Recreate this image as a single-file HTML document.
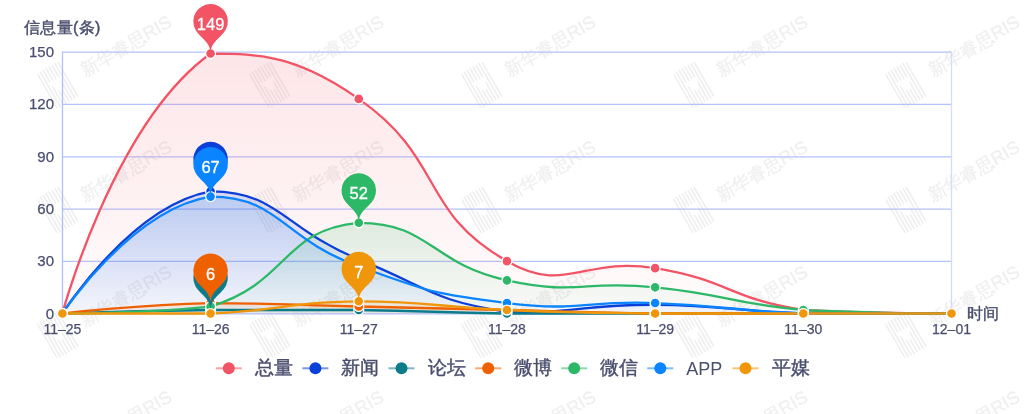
<!DOCTYPE html>
<html><head><meta charset="utf-8"><style>
html,body{margin:0;padding:0;background:#fff;}
body{width:1024px;height:414px;position:relative;overflow:hidden;font-family:"Liberation Sans",sans-serif;color:#4a4e6e;}
svg{position:absolute;left:0;top:0;}
#root{position:absolute;left:0;top:0;width:1024px;height:414px;}
.yl{position:absolute;left:0;width:54px;text-align:right;font-size:15px;line-height:16px;-webkit-text-stroke:0.25px #4a4e6e;}
.xl{position:absolute;top:321px;width:60px;text-align:center;font-size:14px;line-height:16px;-webkit-text-stroke:0.25px #4a4e6e;}
.lg{position:absolute;top:358px;font-size:19px;line-height:20px;-webkit-text-stroke:0.4px #4a4e6e;}
.t{position:absolute;font-size:16px;line-height:18px;letter-spacing:0.35px;-webkit-text-stroke:0.4px #4a4e6e;}
</style></head><body><div id="root">
<svg width="1024" height="414" viewBox="0 0 1024 414" font-family="Liberation Sans, sans-serif">
<defs><clipPath id="lgc"><rect x="-13" y="-20.5" width="26" height="41" rx="3.5"/></clipPath><linearGradient id="g0" x1="0" y1="0" x2="0" y2="1"><stop offset="0" stop-color="#f25465" stop-opacity="0.150"/><stop offset="1" stop-color="#f25465" stop-opacity="0.02"/></linearGradient><linearGradient id="g1" x1="0" y1="0" x2="0" y2="1"><stop offset="0" stop-color="#0a3fd9" stop-opacity="0.150"/><stop offset="1" stop-color="#0a3fd9" stop-opacity="0.02"/></linearGradient><linearGradient id="g2" x1="0" y1="0" x2="0" y2="1"><stop offset="0" stop-color="#0d7c8a" stop-opacity="0.150"/><stop offset="1" stop-color="#0d7c8a" stop-opacity="0.02"/></linearGradient><linearGradient id="g3" x1="0" y1="0" x2="0" y2="1"><stop offset="0" stop-color="#ee6000" stop-opacity="0.150"/><stop offset="1" stop-color="#ee6000" stop-opacity="0.02"/></linearGradient><linearGradient id="g4" x1="0" y1="0" x2="0" y2="1"><stop offset="0" stop-color="#2cb866" stop-opacity="0.150"/><stop offset="1" stop-color="#2cb866" stop-opacity="0.02"/></linearGradient><linearGradient id="g5" x1="0" y1="0" x2="0" y2="1"><stop offset="0" stop-color="#0a84ff" stop-opacity="0.150"/><stop offset="1" stop-color="#0a84ff" stop-opacity="0.02"/></linearGradient><linearGradient id="g6" x1="0" y1="0" x2="0" y2="1"><stop offset="0" stop-color="#f0960a" stop-opacity="0.150"/><stop offset="1" stop-color="#f0960a" stop-opacity="0.02"/></linearGradient></defs>
<g fill="#000" opacity="0.065"><g transform="translate(-127.1 -48.5) rotate(-30)"><g transform="translate(-27.7 -6.2)" fill="#000"><g clip-path="url(#lgc)"><rect x="-13.0" y="-21" width="1.7" height="42"/><rect x="-9.6" y="-21" width="1.7" height="42"/><rect x="-6.2" y="-21" width="1.7" height="42"/><rect x="-2.8" y="-21" width="1.7" height="42"/><rect x="0.6" y="-21" width="1.7" height="42"/><rect x="4.0" y="-21" width="1.7" height="42"/><rect x="7.4" y="-21" width="1.7" height="42"/><rect x="10.8" y="-21" width="1.7" height="42"/></g><path d="M-8 -6 L8 -6 L0 8 Z" fill="#fff"/></g><text x="0" y="0" font-size="18" stroke="#000" stroke-width="0.35">新华睿思RIS</text></g><g transform="translate(84.9 -48.5) rotate(-30)"><g transform="translate(-27.7 -6.2)" fill="#000"><g clip-path="url(#lgc)"><rect x="-13.0" y="-21" width="1.7" height="42"/><rect x="-9.6" y="-21" width="1.7" height="42"/><rect x="-6.2" y="-21" width="1.7" height="42"/><rect x="-2.8" y="-21" width="1.7" height="42"/><rect x="0.6" y="-21" width="1.7" height="42"/><rect x="4.0" y="-21" width="1.7" height="42"/><rect x="7.4" y="-21" width="1.7" height="42"/><rect x="10.8" y="-21" width="1.7" height="42"/></g><path d="M-8 -6 L8 -6 L0 8 Z" fill="#fff"/></g><text x="0" y="0" font-size="18" stroke="#000" stroke-width="0.35">新华睿思RIS</text></g><g transform="translate(296.9 -48.5) rotate(-30)"><g transform="translate(-27.7 -6.2)" fill="#000"><g clip-path="url(#lgc)"><rect x="-13.0" y="-21" width="1.7" height="42"/><rect x="-9.6" y="-21" width="1.7" height="42"/><rect x="-6.2" y="-21" width="1.7" height="42"/><rect x="-2.8" y="-21" width="1.7" height="42"/><rect x="0.6" y="-21" width="1.7" height="42"/><rect x="4.0" y="-21" width="1.7" height="42"/><rect x="7.4" y="-21" width="1.7" height="42"/><rect x="10.8" y="-21" width="1.7" height="42"/></g><path d="M-8 -6 L8 -6 L0 8 Z" fill="#fff"/></g><text x="0" y="0" font-size="18" stroke="#000" stroke-width="0.35">新华睿思RIS</text></g><g transform="translate(508.9 -48.5) rotate(-30)"><g transform="translate(-27.7 -6.2)" fill="#000"><g clip-path="url(#lgc)"><rect x="-13.0" y="-21" width="1.7" height="42"/><rect x="-9.6" y="-21" width="1.7" height="42"/><rect x="-6.2" y="-21" width="1.7" height="42"/><rect x="-2.8" y="-21" width="1.7" height="42"/><rect x="0.6" y="-21" width="1.7" height="42"/><rect x="4.0" y="-21" width="1.7" height="42"/><rect x="7.4" y="-21" width="1.7" height="42"/><rect x="10.8" y="-21" width="1.7" height="42"/></g><path d="M-8 -6 L8 -6 L0 8 Z" fill="#fff"/></g><text x="0" y="0" font-size="18" stroke="#000" stroke-width="0.35">新华睿思RIS</text></g><g transform="translate(720.9 -48.5) rotate(-30)"><g transform="translate(-27.7 -6.2)" fill="#000"><g clip-path="url(#lgc)"><rect x="-13.0" y="-21" width="1.7" height="42"/><rect x="-9.6" y="-21" width="1.7" height="42"/><rect x="-6.2" y="-21" width="1.7" height="42"/><rect x="-2.8" y="-21" width="1.7" height="42"/><rect x="0.6" y="-21" width="1.7" height="42"/><rect x="4.0" y="-21" width="1.7" height="42"/><rect x="7.4" y="-21" width="1.7" height="42"/><rect x="10.8" y="-21" width="1.7" height="42"/></g><path d="M-8 -6 L8 -6 L0 8 Z" fill="#fff"/></g><text x="0" y="0" font-size="18" stroke="#000" stroke-width="0.35">新华睿思RIS</text></g><g transform="translate(932.9 -48.5) rotate(-30)"><g transform="translate(-27.7 -6.2)" fill="#000"><g clip-path="url(#lgc)"><rect x="-13.0" y="-21" width="1.7" height="42"/><rect x="-9.6" y="-21" width="1.7" height="42"/><rect x="-6.2" y="-21" width="1.7" height="42"/><rect x="-2.8" y="-21" width="1.7" height="42"/><rect x="0.6" y="-21" width="1.7" height="42"/><rect x="4.0" y="-21" width="1.7" height="42"/><rect x="7.4" y="-21" width="1.7" height="42"/><rect x="10.8" y="-21" width="1.7" height="42"/></g><path d="M-8 -6 L8 -6 L0 8 Z" fill="#fff"/></g><text x="0" y="0" font-size="18" stroke="#000" stroke-width="0.35">新华睿思RIS</text></g><g transform="translate(1144.9 -48.5) rotate(-30)"><g transform="translate(-27.7 -6.2)" fill="#000"><g clip-path="url(#lgc)"><rect x="-13.0" y="-21" width="1.7" height="42"/><rect x="-9.6" y="-21" width="1.7" height="42"/><rect x="-6.2" y="-21" width="1.7" height="42"/><rect x="-2.8" y="-21" width="1.7" height="42"/><rect x="0.6" y="-21" width="1.7" height="42"/><rect x="4.0" y="-21" width="1.7" height="42"/><rect x="7.4" y="-21" width="1.7" height="42"/><rect x="10.8" y="-21" width="1.7" height="42"/></g><path d="M-8 -6 L8 -6 L0 8 Z" fill="#fff"/></g><text x="0" y="0" font-size="18" stroke="#000" stroke-width="0.35">新华睿思RIS</text></g><g transform="translate(-127.1 76.5) rotate(-30)"><g transform="translate(-27.7 -6.2)" fill="#000"><g clip-path="url(#lgc)"><rect x="-13.0" y="-21" width="1.7" height="42"/><rect x="-9.6" y="-21" width="1.7" height="42"/><rect x="-6.2" y="-21" width="1.7" height="42"/><rect x="-2.8" y="-21" width="1.7" height="42"/><rect x="0.6" y="-21" width="1.7" height="42"/><rect x="4.0" y="-21" width="1.7" height="42"/><rect x="7.4" y="-21" width="1.7" height="42"/><rect x="10.8" y="-21" width="1.7" height="42"/></g><path d="M-8 -6 L8 -6 L0 8 Z" fill="#fff"/></g><text x="0" y="0" font-size="18" stroke="#000" stroke-width="0.35">新华睿思RIS</text></g><g transform="translate(84.9 76.5) rotate(-30)"><g transform="translate(-27.7 -6.2)" fill="#000"><g clip-path="url(#lgc)"><rect x="-13.0" y="-21" width="1.7" height="42"/><rect x="-9.6" y="-21" width="1.7" height="42"/><rect x="-6.2" y="-21" width="1.7" height="42"/><rect x="-2.8" y="-21" width="1.7" height="42"/><rect x="0.6" y="-21" width="1.7" height="42"/><rect x="4.0" y="-21" width="1.7" height="42"/><rect x="7.4" y="-21" width="1.7" height="42"/><rect x="10.8" y="-21" width="1.7" height="42"/></g><path d="M-8 -6 L8 -6 L0 8 Z" fill="#fff"/></g><text x="0" y="0" font-size="18" stroke="#000" stroke-width="0.35">新华睿思RIS</text></g><g transform="translate(296.9 76.5) rotate(-30)"><g transform="translate(-27.7 -6.2)" fill="#000"><g clip-path="url(#lgc)"><rect x="-13.0" y="-21" width="1.7" height="42"/><rect x="-9.6" y="-21" width="1.7" height="42"/><rect x="-6.2" y="-21" width="1.7" height="42"/><rect x="-2.8" y="-21" width="1.7" height="42"/><rect x="0.6" y="-21" width="1.7" height="42"/><rect x="4.0" y="-21" width="1.7" height="42"/><rect x="7.4" y="-21" width="1.7" height="42"/><rect x="10.8" y="-21" width="1.7" height="42"/></g><path d="M-8 -6 L8 -6 L0 8 Z" fill="#fff"/></g><text x="0" y="0" font-size="18" stroke="#000" stroke-width="0.35">新华睿思RIS</text></g><g transform="translate(508.9 76.5) rotate(-30)"><g transform="translate(-27.7 -6.2)" fill="#000"><g clip-path="url(#lgc)"><rect x="-13.0" y="-21" width="1.7" height="42"/><rect x="-9.6" y="-21" width="1.7" height="42"/><rect x="-6.2" y="-21" width="1.7" height="42"/><rect x="-2.8" y="-21" width="1.7" height="42"/><rect x="0.6" y="-21" width="1.7" height="42"/><rect x="4.0" y="-21" width="1.7" height="42"/><rect x="7.4" y="-21" width="1.7" height="42"/><rect x="10.8" y="-21" width="1.7" height="42"/></g><path d="M-8 -6 L8 -6 L0 8 Z" fill="#fff"/></g><text x="0" y="0" font-size="18" stroke="#000" stroke-width="0.35">新华睿思RIS</text></g><g transform="translate(720.9 76.5) rotate(-30)"><g transform="translate(-27.7 -6.2)" fill="#000"><g clip-path="url(#lgc)"><rect x="-13.0" y="-21" width="1.7" height="42"/><rect x="-9.6" y="-21" width="1.7" height="42"/><rect x="-6.2" y="-21" width="1.7" height="42"/><rect x="-2.8" y="-21" width="1.7" height="42"/><rect x="0.6" y="-21" width="1.7" height="42"/><rect x="4.0" y="-21" width="1.7" height="42"/><rect x="7.4" y="-21" width="1.7" height="42"/><rect x="10.8" y="-21" width="1.7" height="42"/></g><path d="M-8 -6 L8 -6 L0 8 Z" fill="#fff"/></g><text x="0" y="0" font-size="18" stroke="#000" stroke-width="0.35">新华睿思RIS</text></g><g transform="translate(932.9 76.5) rotate(-30)"><g transform="translate(-27.7 -6.2)" fill="#000"><g clip-path="url(#lgc)"><rect x="-13.0" y="-21" width="1.7" height="42"/><rect x="-9.6" y="-21" width="1.7" height="42"/><rect x="-6.2" y="-21" width="1.7" height="42"/><rect x="-2.8" y="-21" width="1.7" height="42"/><rect x="0.6" y="-21" width="1.7" height="42"/><rect x="4.0" y="-21" width="1.7" height="42"/><rect x="7.4" y="-21" width="1.7" height="42"/><rect x="10.8" y="-21" width="1.7" height="42"/></g><path d="M-8 -6 L8 -6 L0 8 Z" fill="#fff"/></g><text x="0" y="0" font-size="18" stroke="#000" stroke-width="0.35">新华睿思RIS</text></g><g transform="translate(1144.9 76.5) rotate(-30)"><g transform="translate(-27.7 -6.2)" fill="#000"><g clip-path="url(#lgc)"><rect x="-13.0" y="-21" width="1.7" height="42"/><rect x="-9.6" y="-21" width="1.7" height="42"/><rect x="-6.2" y="-21" width="1.7" height="42"/><rect x="-2.8" y="-21" width="1.7" height="42"/><rect x="0.6" y="-21" width="1.7" height="42"/><rect x="4.0" y="-21" width="1.7" height="42"/><rect x="7.4" y="-21" width="1.7" height="42"/><rect x="10.8" y="-21" width="1.7" height="42"/></g><path d="M-8 -6 L8 -6 L0 8 Z" fill="#fff"/></g><text x="0" y="0" font-size="18" stroke="#000" stroke-width="0.35">新华睿思RIS</text></g><g transform="translate(-127.1 201.5) rotate(-30)"><g transform="translate(-27.7 -6.2)" fill="#000"><g clip-path="url(#lgc)"><rect x="-13.0" y="-21" width="1.7" height="42"/><rect x="-9.6" y="-21" width="1.7" height="42"/><rect x="-6.2" y="-21" width="1.7" height="42"/><rect x="-2.8" y="-21" width="1.7" height="42"/><rect x="0.6" y="-21" width="1.7" height="42"/><rect x="4.0" y="-21" width="1.7" height="42"/><rect x="7.4" y="-21" width="1.7" height="42"/><rect x="10.8" y="-21" width="1.7" height="42"/></g><path d="M-8 -6 L8 -6 L0 8 Z" fill="#fff"/></g><text x="0" y="0" font-size="18" stroke="#000" stroke-width="0.35">新华睿思RIS</text></g><g transform="translate(84.9 201.5) rotate(-30)"><g transform="translate(-27.7 -6.2)" fill="#000"><g clip-path="url(#lgc)"><rect x="-13.0" y="-21" width="1.7" height="42"/><rect x="-9.6" y="-21" width="1.7" height="42"/><rect x="-6.2" y="-21" width="1.7" height="42"/><rect x="-2.8" y="-21" width="1.7" height="42"/><rect x="0.6" y="-21" width="1.7" height="42"/><rect x="4.0" y="-21" width="1.7" height="42"/><rect x="7.4" y="-21" width="1.7" height="42"/><rect x="10.8" y="-21" width="1.7" height="42"/></g><path d="M-8 -6 L8 -6 L0 8 Z" fill="#fff"/></g><text x="0" y="0" font-size="18" stroke="#000" stroke-width="0.35">新华睿思RIS</text></g><g transform="translate(296.9 201.5) rotate(-30)"><g transform="translate(-27.7 -6.2)" fill="#000"><g clip-path="url(#lgc)"><rect x="-13.0" y="-21" width="1.7" height="42"/><rect x="-9.6" y="-21" width="1.7" height="42"/><rect x="-6.2" y="-21" width="1.7" height="42"/><rect x="-2.8" y="-21" width="1.7" height="42"/><rect x="0.6" y="-21" width="1.7" height="42"/><rect x="4.0" y="-21" width="1.7" height="42"/><rect x="7.4" y="-21" width="1.7" height="42"/><rect x="10.8" y="-21" width="1.7" height="42"/></g><path d="M-8 -6 L8 -6 L0 8 Z" fill="#fff"/></g><text x="0" y="0" font-size="18" stroke="#000" stroke-width="0.35">新华睿思RIS</text></g><g transform="translate(508.9 201.5) rotate(-30)"><g transform="translate(-27.7 -6.2)" fill="#000"><g clip-path="url(#lgc)"><rect x="-13.0" y="-21" width="1.7" height="42"/><rect x="-9.6" y="-21" width="1.7" height="42"/><rect x="-6.2" y="-21" width="1.7" height="42"/><rect x="-2.8" y="-21" width="1.7" height="42"/><rect x="0.6" y="-21" width="1.7" height="42"/><rect x="4.0" y="-21" width="1.7" height="42"/><rect x="7.4" y="-21" width="1.7" height="42"/><rect x="10.8" y="-21" width="1.7" height="42"/></g><path d="M-8 -6 L8 -6 L0 8 Z" fill="#fff"/></g><text x="0" y="0" font-size="18" stroke="#000" stroke-width="0.35">新华睿思RIS</text></g><g transform="translate(720.9 201.5) rotate(-30)"><g transform="translate(-27.7 -6.2)" fill="#000"><g clip-path="url(#lgc)"><rect x="-13.0" y="-21" width="1.7" height="42"/><rect x="-9.6" y="-21" width="1.7" height="42"/><rect x="-6.2" y="-21" width="1.7" height="42"/><rect x="-2.8" y="-21" width="1.7" height="42"/><rect x="0.6" y="-21" width="1.7" height="42"/><rect x="4.0" y="-21" width="1.7" height="42"/><rect x="7.4" y="-21" width="1.7" height="42"/><rect x="10.8" y="-21" width="1.7" height="42"/></g><path d="M-8 -6 L8 -6 L0 8 Z" fill="#fff"/></g><text x="0" y="0" font-size="18" stroke="#000" stroke-width="0.35">新华睿思RIS</text></g><g transform="translate(932.9 201.5) rotate(-30)"><g transform="translate(-27.7 -6.2)" fill="#000"><g clip-path="url(#lgc)"><rect x="-13.0" y="-21" width="1.7" height="42"/><rect x="-9.6" y="-21" width="1.7" height="42"/><rect x="-6.2" y="-21" width="1.7" height="42"/><rect x="-2.8" y="-21" width="1.7" height="42"/><rect x="0.6" y="-21" width="1.7" height="42"/><rect x="4.0" y="-21" width="1.7" height="42"/><rect x="7.4" y="-21" width="1.7" height="42"/><rect x="10.8" y="-21" width="1.7" height="42"/></g><path d="M-8 -6 L8 -6 L0 8 Z" fill="#fff"/></g><text x="0" y="0" font-size="18" stroke="#000" stroke-width="0.35">新华睿思RIS</text></g><g transform="translate(1144.9 201.5) rotate(-30)"><g transform="translate(-27.7 -6.2)" fill="#000"><g clip-path="url(#lgc)"><rect x="-13.0" y="-21" width="1.7" height="42"/><rect x="-9.6" y="-21" width="1.7" height="42"/><rect x="-6.2" y="-21" width="1.7" height="42"/><rect x="-2.8" y="-21" width="1.7" height="42"/><rect x="0.6" y="-21" width="1.7" height="42"/><rect x="4.0" y="-21" width="1.7" height="42"/><rect x="7.4" y="-21" width="1.7" height="42"/><rect x="10.8" y="-21" width="1.7" height="42"/></g><path d="M-8 -6 L8 -6 L0 8 Z" fill="#fff"/></g><text x="0" y="0" font-size="18" stroke="#000" stroke-width="0.35">新华睿思RIS</text></g><g transform="translate(-127.1 326.5) rotate(-30)"><g transform="translate(-27.7 -6.2)" fill="#000"><g clip-path="url(#lgc)"><rect x="-13.0" y="-21" width="1.7" height="42"/><rect x="-9.6" y="-21" width="1.7" height="42"/><rect x="-6.2" y="-21" width="1.7" height="42"/><rect x="-2.8" y="-21" width="1.7" height="42"/><rect x="0.6" y="-21" width="1.7" height="42"/><rect x="4.0" y="-21" width="1.7" height="42"/><rect x="7.4" y="-21" width="1.7" height="42"/><rect x="10.8" y="-21" width="1.7" height="42"/></g><path d="M-8 -6 L8 -6 L0 8 Z" fill="#fff"/></g><text x="0" y="0" font-size="18" stroke="#000" stroke-width="0.35">新华睿思RIS</text></g><g transform="translate(84.9 326.5) rotate(-30)"><g transform="translate(-27.7 -6.2)" fill="#000"><g clip-path="url(#lgc)"><rect x="-13.0" y="-21" width="1.7" height="42"/><rect x="-9.6" y="-21" width="1.7" height="42"/><rect x="-6.2" y="-21" width="1.7" height="42"/><rect x="-2.8" y="-21" width="1.7" height="42"/><rect x="0.6" y="-21" width="1.7" height="42"/><rect x="4.0" y="-21" width="1.7" height="42"/><rect x="7.4" y="-21" width="1.7" height="42"/><rect x="10.8" y="-21" width="1.7" height="42"/></g><path d="M-8 -6 L8 -6 L0 8 Z" fill="#fff"/></g><text x="0" y="0" font-size="18" stroke="#000" stroke-width="0.35">新华睿思RIS</text></g><g transform="translate(296.9 326.5) rotate(-30)"><g transform="translate(-27.7 -6.2)" fill="#000"><g clip-path="url(#lgc)"><rect x="-13.0" y="-21" width="1.7" height="42"/><rect x="-9.6" y="-21" width="1.7" height="42"/><rect x="-6.2" y="-21" width="1.7" height="42"/><rect x="-2.8" y="-21" width="1.7" height="42"/><rect x="0.6" y="-21" width="1.7" height="42"/><rect x="4.0" y="-21" width="1.7" height="42"/><rect x="7.4" y="-21" width="1.7" height="42"/><rect x="10.8" y="-21" width="1.7" height="42"/></g><path d="M-8 -6 L8 -6 L0 8 Z" fill="#fff"/></g><text x="0" y="0" font-size="18" stroke="#000" stroke-width="0.35">新华睿思RIS</text></g><g transform="translate(508.9 326.5) rotate(-30)"><g transform="translate(-27.7 -6.2)" fill="#000"><g clip-path="url(#lgc)"><rect x="-13.0" y="-21" width="1.7" height="42"/><rect x="-9.6" y="-21" width="1.7" height="42"/><rect x="-6.2" y="-21" width="1.7" height="42"/><rect x="-2.8" y="-21" width="1.7" height="42"/><rect x="0.6" y="-21" width="1.7" height="42"/><rect x="4.0" y="-21" width="1.7" height="42"/><rect x="7.4" y="-21" width="1.7" height="42"/><rect x="10.8" y="-21" width="1.7" height="42"/></g><path d="M-8 -6 L8 -6 L0 8 Z" fill="#fff"/></g><text x="0" y="0" font-size="18" stroke="#000" stroke-width="0.35">新华睿思RIS</text></g><g transform="translate(720.9 326.5) rotate(-30)"><g transform="translate(-27.7 -6.2)" fill="#000"><g clip-path="url(#lgc)"><rect x="-13.0" y="-21" width="1.7" height="42"/><rect x="-9.6" y="-21" width="1.7" height="42"/><rect x="-6.2" y="-21" width="1.7" height="42"/><rect x="-2.8" y="-21" width="1.7" height="42"/><rect x="0.6" y="-21" width="1.7" height="42"/><rect x="4.0" y="-21" width="1.7" height="42"/><rect x="7.4" y="-21" width="1.7" height="42"/><rect x="10.8" y="-21" width="1.7" height="42"/></g><path d="M-8 -6 L8 -6 L0 8 Z" fill="#fff"/></g><text x="0" y="0" font-size="18" stroke="#000" stroke-width="0.35">新华睿思RIS</text></g><g transform="translate(932.9 326.5) rotate(-30)"><g transform="translate(-27.7 -6.2)" fill="#000"><g clip-path="url(#lgc)"><rect x="-13.0" y="-21" width="1.7" height="42"/><rect x="-9.6" y="-21" width="1.7" height="42"/><rect x="-6.2" y="-21" width="1.7" height="42"/><rect x="-2.8" y="-21" width="1.7" height="42"/><rect x="0.6" y="-21" width="1.7" height="42"/><rect x="4.0" y="-21" width="1.7" height="42"/><rect x="7.4" y="-21" width="1.7" height="42"/><rect x="10.8" y="-21" width="1.7" height="42"/></g><path d="M-8 -6 L8 -6 L0 8 Z" fill="#fff"/></g><text x="0" y="0" font-size="18" stroke="#000" stroke-width="0.35">新华睿思RIS</text></g><g transform="translate(1144.9 326.5) rotate(-30)"><g transform="translate(-27.7 -6.2)" fill="#000"><g clip-path="url(#lgc)"><rect x="-13.0" y="-21" width="1.7" height="42"/><rect x="-9.6" y="-21" width="1.7" height="42"/><rect x="-6.2" y="-21" width="1.7" height="42"/><rect x="-2.8" y="-21" width="1.7" height="42"/><rect x="0.6" y="-21" width="1.7" height="42"/><rect x="4.0" y="-21" width="1.7" height="42"/><rect x="7.4" y="-21" width="1.7" height="42"/><rect x="10.8" y="-21" width="1.7" height="42"/></g><path d="M-8 -6 L8 -6 L0 8 Z" fill="#fff"/></g><text x="0" y="0" font-size="18" stroke="#000" stroke-width="0.35">新华睿思RIS</text></g><g transform="translate(-127.1 451.5) rotate(-30)"><g transform="translate(-27.7 -6.2)" fill="#000"><g clip-path="url(#lgc)"><rect x="-13.0" y="-21" width="1.7" height="42"/><rect x="-9.6" y="-21" width="1.7" height="42"/><rect x="-6.2" y="-21" width="1.7" height="42"/><rect x="-2.8" y="-21" width="1.7" height="42"/><rect x="0.6" y="-21" width="1.7" height="42"/><rect x="4.0" y="-21" width="1.7" height="42"/><rect x="7.4" y="-21" width="1.7" height="42"/><rect x="10.8" y="-21" width="1.7" height="42"/></g><path d="M-8 -6 L8 -6 L0 8 Z" fill="#fff"/></g><text x="0" y="0" font-size="18" stroke="#000" stroke-width="0.35">新华睿思RIS</text></g><g transform="translate(84.9 451.5) rotate(-30)"><g transform="translate(-27.7 -6.2)" fill="#000"><g clip-path="url(#lgc)"><rect x="-13.0" y="-21" width="1.7" height="42"/><rect x="-9.6" y="-21" width="1.7" height="42"/><rect x="-6.2" y="-21" width="1.7" height="42"/><rect x="-2.8" y="-21" width="1.7" height="42"/><rect x="0.6" y="-21" width="1.7" height="42"/><rect x="4.0" y="-21" width="1.7" height="42"/><rect x="7.4" y="-21" width="1.7" height="42"/><rect x="10.8" y="-21" width="1.7" height="42"/></g><path d="M-8 -6 L8 -6 L0 8 Z" fill="#fff"/></g><text x="0" y="0" font-size="18" stroke="#000" stroke-width="0.35">新华睿思RIS</text></g><g transform="translate(296.9 451.5) rotate(-30)"><g transform="translate(-27.7 -6.2)" fill="#000"><g clip-path="url(#lgc)"><rect x="-13.0" y="-21" width="1.7" height="42"/><rect x="-9.6" y="-21" width="1.7" height="42"/><rect x="-6.2" y="-21" width="1.7" height="42"/><rect x="-2.8" y="-21" width="1.7" height="42"/><rect x="0.6" y="-21" width="1.7" height="42"/><rect x="4.0" y="-21" width="1.7" height="42"/><rect x="7.4" y="-21" width="1.7" height="42"/><rect x="10.8" y="-21" width="1.7" height="42"/></g><path d="M-8 -6 L8 -6 L0 8 Z" fill="#fff"/></g><text x="0" y="0" font-size="18" stroke="#000" stroke-width="0.35">新华睿思RIS</text></g><g transform="translate(508.9 451.5) rotate(-30)"><g transform="translate(-27.7 -6.2)" fill="#000"><g clip-path="url(#lgc)"><rect x="-13.0" y="-21" width="1.7" height="42"/><rect x="-9.6" y="-21" width="1.7" height="42"/><rect x="-6.2" y="-21" width="1.7" height="42"/><rect x="-2.8" y="-21" width="1.7" height="42"/><rect x="0.6" y="-21" width="1.7" height="42"/><rect x="4.0" y="-21" width="1.7" height="42"/><rect x="7.4" y="-21" width="1.7" height="42"/><rect x="10.8" y="-21" width="1.7" height="42"/></g><path d="M-8 -6 L8 -6 L0 8 Z" fill="#fff"/></g><text x="0" y="0" font-size="18" stroke="#000" stroke-width="0.35">新华睿思RIS</text></g><g transform="translate(720.9 451.5) rotate(-30)"><g transform="translate(-27.7 -6.2)" fill="#000"><g clip-path="url(#lgc)"><rect x="-13.0" y="-21" width="1.7" height="42"/><rect x="-9.6" y="-21" width="1.7" height="42"/><rect x="-6.2" y="-21" width="1.7" height="42"/><rect x="-2.8" y="-21" width="1.7" height="42"/><rect x="0.6" y="-21" width="1.7" height="42"/><rect x="4.0" y="-21" width="1.7" height="42"/><rect x="7.4" y="-21" width="1.7" height="42"/><rect x="10.8" y="-21" width="1.7" height="42"/></g><path d="M-8 -6 L8 -6 L0 8 Z" fill="#fff"/></g><text x="0" y="0" font-size="18" stroke="#000" stroke-width="0.35">新华睿思RIS</text></g><g transform="translate(932.9 451.5) rotate(-30)"><g transform="translate(-27.7 -6.2)" fill="#000"><g clip-path="url(#lgc)"><rect x="-13.0" y="-21" width="1.7" height="42"/><rect x="-9.6" y="-21" width="1.7" height="42"/><rect x="-6.2" y="-21" width="1.7" height="42"/><rect x="-2.8" y="-21" width="1.7" height="42"/><rect x="0.6" y="-21" width="1.7" height="42"/><rect x="4.0" y="-21" width="1.7" height="42"/><rect x="7.4" y="-21" width="1.7" height="42"/><rect x="10.8" y="-21" width="1.7" height="42"/></g><path d="M-8 -6 L8 -6 L0 8 Z" fill="#fff"/></g><text x="0" y="0" font-size="18" stroke="#000" stroke-width="0.35">新华睿思RIS</text></g><g transform="translate(1144.9 451.5) rotate(-30)"><g transform="translate(-27.7 -6.2)" fill="#000"><g clip-path="url(#lgc)"><rect x="-13.0" y="-21" width="1.7" height="42"/><rect x="-9.6" y="-21" width="1.7" height="42"/><rect x="-6.2" y="-21" width="1.7" height="42"/><rect x="-2.8" y="-21" width="1.7" height="42"/><rect x="0.6" y="-21" width="1.7" height="42"/><rect x="4.0" y="-21" width="1.7" height="42"/><rect x="7.4" y="-21" width="1.7" height="42"/><rect x="10.8" y="-21" width="1.7" height="42"/></g><path d="M-8 -6 L8 -6 L0 8 Z" fill="#fff"/></g><text x="0" y="0" font-size="18" stroke="#000" stroke-width="0.35">新华睿思RIS</text></g><g transform="translate(-127.1 576.5) rotate(-30)"><g transform="translate(-27.7 -6.2)" fill="#000"><g clip-path="url(#lgc)"><rect x="-13.0" y="-21" width="1.7" height="42"/><rect x="-9.6" y="-21" width="1.7" height="42"/><rect x="-6.2" y="-21" width="1.7" height="42"/><rect x="-2.8" y="-21" width="1.7" height="42"/><rect x="0.6" y="-21" width="1.7" height="42"/><rect x="4.0" y="-21" width="1.7" height="42"/><rect x="7.4" y="-21" width="1.7" height="42"/><rect x="10.8" y="-21" width="1.7" height="42"/></g><path d="M-8 -6 L8 -6 L0 8 Z" fill="#fff"/></g><text x="0" y="0" font-size="18" stroke="#000" stroke-width="0.35">新华睿思RIS</text></g><g transform="translate(84.9 576.5) rotate(-30)"><g transform="translate(-27.7 -6.2)" fill="#000"><g clip-path="url(#lgc)"><rect x="-13.0" y="-21" width="1.7" height="42"/><rect x="-9.6" y="-21" width="1.7" height="42"/><rect x="-6.2" y="-21" width="1.7" height="42"/><rect x="-2.8" y="-21" width="1.7" height="42"/><rect x="0.6" y="-21" width="1.7" height="42"/><rect x="4.0" y="-21" width="1.7" height="42"/><rect x="7.4" y="-21" width="1.7" height="42"/><rect x="10.8" y="-21" width="1.7" height="42"/></g><path d="M-8 -6 L8 -6 L0 8 Z" fill="#fff"/></g><text x="0" y="0" font-size="18" stroke="#000" stroke-width="0.35">新华睿思RIS</text></g><g transform="translate(296.9 576.5) rotate(-30)"><g transform="translate(-27.7 -6.2)" fill="#000"><g clip-path="url(#lgc)"><rect x="-13.0" y="-21" width="1.7" height="42"/><rect x="-9.6" y="-21" width="1.7" height="42"/><rect x="-6.2" y="-21" width="1.7" height="42"/><rect x="-2.8" y="-21" width="1.7" height="42"/><rect x="0.6" y="-21" width="1.7" height="42"/><rect x="4.0" y="-21" width="1.7" height="42"/><rect x="7.4" y="-21" width="1.7" height="42"/><rect x="10.8" y="-21" width="1.7" height="42"/></g><path d="M-8 -6 L8 -6 L0 8 Z" fill="#fff"/></g><text x="0" y="0" font-size="18" stroke="#000" stroke-width="0.35">新华睿思RIS</text></g><g transform="translate(508.9 576.5) rotate(-30)"><g transform="translate(-27.7 -6.2)" fill="#000"><g clip-path="url(#lgc)"><rect x="-13.0" y="-21" width="1.7" height="42"/><rect x="-9.6" y="-21" width="1.7" height="42"/><rect x="-6.2" y="-21" width="1.7" height="42"/><rect x="-2.8" y="-21" width="1.7" height="42"/><rect x="0.6" y="-21" width="1.7" height="42"/><rect x="4.0" y="-21" width="1.7" height="42"/><rect x="7.4" y="-21" width="1.7" height="42"/><rect x="10.8" y="-21" width="1.7" height="42"/></g><path d="M-8 -6 L8 -6 L0 8 Z" fill="#fff"/></g><text x="0" y="0" font-size="18" stroke="#000" stroke-width="0.35">新华睿思RIS</text></g><g transform="translate(720.9 576.5) rotate(-30)"><g transform="translate(-27.7 -6.2)" fill="#000"><g clip-path="url(#lgc)"><rect x="-13.0" y="-21" width="1.7" height="42"/><rect x="-9.6" y="-21" width="1.7" height="42"/><rect x="-6.2" y="-21" width="1.7" height="42"/><rect x="-2.8" y="-21" width="1.7" height="42"/><rect x="0.6" y="-21" width="1.7" height="42"/><rect x="4.0" y="-21" width="1.7" height="42"/><rect x="7.4" y="-21" width="1.7" height="42"/><rect x="10.8" y="-21" width="1.7" height="42"/></g><path d="M-8 -6 L8 -6 L0 8 Z" fill="#fff"/></g><text x="0" y="0" font-size="18" stroke="#000" stroke-width="0.35">新华睿思RIS</text></g><g transform="translate(932.9 576.5) rotate(-30)"><g transform="translate(-27.7 -6.2)" fill="#000"><g clip-path="url(#lgc)"><rect x="-13.0" y="-21" width="1.7" height="42"/><rect x="-9.6" y="-21" width="1.7" height="42"/><rect x="-6.2" y="-21" width="1.7" height="42"/><rect x="-2.8" y="-21" width="1.7" height="42"/><rect x="0.6" y="-21" width="1.7" height="42"/><rect x="4.0" y="-21" width="1.7" height="42"/><rect x="7.4" y="-21" width="1.7" height="42"/><rect x="10.8" y="-21" width="1.7" height="42"/></g><path d="M-8 -6 L8 -6 L0 8 Z" fill="#fff"/></g><text x="0" y="0" font-size="18" stroke="#000" stroke-width="0.35">新华睿思RIS</text></g><g transform="translate(1144.9 576.5) rotate(-30)"><g transform="translate(-27.7 -6.2)" fill="#000"><g clip-path="url(#lgc)"><rect x="-13.0" y="-21" width="1.7" height="42"/><rect x="-9.6" y="-21" width="1.7" height="42"/><rect x="-6.2" y="-21" width="1.7" height="42"/><rect x="-2.8" y="-21" width="1.7" height="42"/><rect x="0.6" y="-21" width="1.7" height="42"/><rect x="4.0" y="-21" width="1.7" height="42"/><rect x="7.4" y="-21" width="1.7" height="42"/><rect x="10.8" y="-21" width="1.7" height="42"/></g><path d="M-8 -6 L8 -6 L0 8 Z" fill="#fff"/></g><text x="0" y="0" font-size="18" stroke="#000" stroke-width="0.35">新华睿思RIS</text></g></g>
<line x1="62" y1="313.80" x2="951.5" y2="313.80" stroke="#b3c2fb" stroke-width="1.3"/>
<line x1="62" y1="261.46" x2="951.5" y2="261.46" stroke="#b3c2fb" stroke-width="1.3"/>
<line x1="62" y1="209.12" x2="951.5" y2="209.12" stroke="#b3c2fb" stroke-width="1.3"/>
<line x1="62" y1="156.78" x2="951.5" y2="156.78" stroke="#b3c2fb" stroke-width="1.3"/>
<line x1="62" y1="104.44" x2="951.5" y2="104.44" stroke="#b3c2fb" stroke-width="1.3"/>
<line x1="62" y1="52.10" x2="951.5" y2="52.10" stroke="#b3c2fb" stroke-width="1.3"/>
<line x1="62.5" y1="52.1" x2="62.5" y2="313.8" stroke="#b0bffc" stroke-width="1.3"/>
<line x1="951.5" y1="52.1" x2="951.5" y2="313.8" stroke="#d3dcff" stroke-width="1.3"/>
<path d="M62.40 313.50 C62.40 313.50 112.96 124.23 210.58 53.54 C261.14 53.54 297.48 55.97 358.77 98.91 C445.66 159.78 418.49 210.65 506.95 261.16 C566.67 295.26 582.42 256.15 655.13 268.14 C730.61 280.58 727.81 298.45 803.32 310.01 C876.00 313.50 951.50 313.50 951.50 313.50 L951.50 313.50 L62.40 313.50 Z" fill="url(#g0)"/>
<path d="M62.40 313.50 C62.40 313.50 130.45 206.00 210.58 191.37 C278.63 191.37 283.31 228.77 358.77 259.42 C431.49 288.96 430.72 300.09 506.95 311.76 C578.91 313.50 581.06 304.34 655.13 304.78 C729.25 305.21 729.16 311.32 803.32 313.50 C877.34 313.50 951.50 313.50 951.50 313.50 L951.50 313.50 L62.40 313.50 Z" fill="url(#g1)"/>
<path d="M62.40 313.50 C62.40 313.50 136.48 310.88 210.58 310.01 C284.66 310.01 284.69 310.01 358.77 310.01 C432.87 310.88 432.85 312.63 506.95 313.50 C581.03 313.50 581.04 313.50 655.13 313.50 C729.22 313.50 729.22 313.50 803.32 313.50 C877.41 313.50 951.50 313.50 951.50 313.50 L951.50 313.50 L62.40 313.50 Z" fill="url(#g2)"/>
<path d="M62.40 313.50 C62.40 313.50 136.41 304.78 210.58 303.03 C284.59 303.03 284.68 304.78 358.77 306.52 C432.86 308.27 432.86 308.27 506.95 310.01 C581.04 311.76 581.03 312.63 655.13 313.50 C729.21 313.50 729.22 313.50 803.32 313.50 C877.41 313.50 951.50 313.50 951.50 313.50 L951.50 313.50 L62.40 313.50 Z" fill="url(#g3)"/>
<path d="M62.40 313.50 C62.40 313.50 141.58 313.50 210.58 306.52 C289.76 282.28 282.15 229.54 358.77 222.78 C430.33 222.78 430.30 263.66 506.95 280.35 C578.48 295.93 581.43 279.95 655.13 287.33 C729.61 294.78 728.81 303.43 803.32 310.01 C876.99 313.50 951.50 313.50 951.50 313.50 L951.50 313.50 L62.40 313.50 Z" fill="url(#g4)"/>
<path d="M62.40 313.50 C62.40 313.50 131.25 209.22 210.58 196.61 C279.43 196.61 282.06 238.85 358.77 266.39 C430.25 292.06 431.76 293.74 506.95 303.03 C579.94 312.06 581.13 300.42 655.13 303.03 C729.32 305.65 729.13 310.88 803.32 313.50 C877.32 313.50 951.50 313.50 951.50 313.50 L951.50 313.50 L62.40 313.50 Z" fill="url(#g5)"/>
<path d="M62.40 313.50 C62.40 313.50 136.62 313.50 210.58 313.50 C284.80 310.44 284.61 302.16 358.77 301.29 C432.80 301.29 432.80 306.96 506.95 310.01 C580.99 313.06 581.03 312.63 655.13 313.50 C729.21 313.50 729.22 313.50 803.32 313.50 C877.41 313.50 951.50 313.50 951.50 313.50 L951.50 313.50 L62.40 313.50 Z" fill="url(#g6)"/>
<path d="M62.40 313.50 C62.40 313.50 112.96 124.23 210.58 53.54 C261.14 53.54 297.48 55.97 358.77 98.91 C445.66 159.78 418.49 210.65 506.95 261.16 C566.67 295.26 582.42 256.15 655.13 268.14 C730.61 280.58 727.81 298.45 803.32 310.01 C876.00 313.50 951.50 313.50 951.50 313.50" fill="none" stroke="#f25465" stroke-width="2.3"/>
<path d="M62.40 313.50 C62.40 313.50 130.45 206.00 210.58 191.37 C278.63 191.37 283.31 228.77 358.77 259.42 C431.49 288.96 430.72 300.09 506.95 311.76 C578.91 313.50 581.06 304.34 655.13 304.78 C729.25 305.21 729.16 311.32 803.32 313.50 C877.34 313.50 951.50 313.50 951.50 313.50" fill="none" stroke="#0a3fd9" stroke-width="2.3"/>
<path d="M62.40 313.50 C62.40 313.50 136.48 310.88 210.58 310.01 C284.66 310.01 284.69 310.01 358.77 310.01 C432.87 310.88 432.85 312.63 506.95 313.50 C581.03 313.50 581.04 313.50 655.13 313.50 C729.22 313.50 729.22 313.50 803.32 313.50 C877.41 313.50 951.50 313.50 951.50 313.50" fill="none" stroke="#0d7c8a" stroke-width="2.3"/>
<path d="M62.40 313.50 C62.40 313.50 136.41 304.78 210.58 303.03 C284.59 303.03 284.68 304.78 358.77 306.52 C432.86 308.27 432.86 308.27 506.95 310.01 C581.04 311.76 581.03 312.63 655.13 313.50 C729.21 313.50 729.22 313.50 803.32 313.50 C877.41 313.50 951.50 313.50 951.50 313.50" fill="none" stroke="#ee6000" stroke-width="2.3"/>
<path d="M62.40 313.50 C62.40 313.50 141.58 313.50 210.58 306.52 C289.76 282.28 282.15 229.54 358.77 222.78 C430.33 222.78 430.30 263.66 506.95 280.35 C578.48 295.93 581.43 279.95 655.13 287.33 C729.61 294.78 728.81 303.43 803.32 310.01 C876.99 313.50 951.50 313.50 951.50 313.50" fill="none" stroke="#2cb866" stroke-width="2.3"/>
<path d="M62.40 313.50 C62.40 313.50 131.25 209.22 210.58 196.61 C279.43 196.61 282.06 238.85 358.77 266.39 C430.25 292.06 431.76 293.74 506.95 303.03 C579.94 312.06 581.13 300.42 655.13 303.03 C729.32 305.65 729.13 310.88 803.32 313.50 C877.32 313.50 951.50 313.50 951.50 313.50" fill="none" stroke="#0a84ff" stroke-width="2.3"/>
<path d="M62.40 313.50 C62.40 313.50 136.62 313.50 210.58 313.50 C284.80 310.44 284.61 302.16 358.77 301.29 C432.80 301.29 432.80 306.96 506.95 310.01 C580.99 313.06 581.03 312.63 655.13 313.50 C729.21 313.50 729.22 313.50 803.32 313.50 C877.41 313.50 951.50 313.50 951.50 313.50" fill="none" stroke="#f0960a" stroke-width="2.3"/>
<circle cx="62.40" cy="313.50" r="4.95" fill="#f25465" stroke="#fff" stroke-width="1.3"/>
<circle cx="210.58" cy="53.54" r="4.95" fill="#f25465" stroke="#fff" stroke-width="1.3"/>
<circle cx="358.77" cy="98.91" r="4.95" fill="#f25465" stroke="#fff" stroke-width="1.3"/>
<circle cx="506.95" cy="261.16" r="4.95" fill="#f25465" stroke="#fff" stroke-width="1.3"/>
<circle cx="655.13" cy="268.14" r="4.95" fill="#f25465" stroke="#fff" stroke-width="1.3"/>
<circle cx="803.32" cy="310.01" r="4.95" fill="#f25465" stroke="#fff" stroke-width="1.3"/>
<circle cx="951.50" cy="313.50" r="4.95" fill="#f25465" stroke="#fff" stroke-width="1.3"/>
<circle cx="62.40" cy="313.50" r="4.95" fill="#0a3fd9" stroke="#fff" stroke-width="1.3"/>
<circle cx="210.58" cy="191.37" r="4.95" fill="#0a3fd9" stroke="#fff" stroke-width="1.3"/>
<circle cx="358.77" cy="259.42" r="4.95" fill="#0a3fd9" stroke="#fff" stroke-width="1.3"/>
<circle cx="506.95" cy="311.76" r="4.95" fill="#0a3fd9" stroke="#fff" stroke-width="1.3"/>
<circle cx="655.13" cy="304.78" r="4.95" fill="#0a3fd9" stroke="#fff" stroke-width="1.3"/>
<circle cx="803.32" cy="313.50" r="4.95" fill="#0a3fd9" stroke="#fff" stroke-width="1.3"/>
<circle cx="951.50" cy="313.50" r="4.95" fill="#0a3fd9" stroke="#fff" stroke-width="1.3"/>
<circle cx="62.40" cy="313.50" r="4.95" fill="#0d7c8a" stroke="#fff" stroke-width="1.3"/>
<circle cx="210.58" cy="310.01" r="4.95" fill="#0d7c8a" stroke="#fff" stroke-width="1.3"/>
<circle cx="358.77" cy="310.01" r="4.95" fill="#0d7c8a" stroke="#fff" stroke-width="1.3"/>
<circle cx="506.95" cy="313.50" r="4.95" fill="#0d7c8a" stroke="#fff" stroke-width="1.3"/>
<circle cx="655.13" cy="313.50" r="4.95" fill="#0d7c8a" stroke="#fff" stroke-width="1.3"/>
<circle cx="803.32" cy="313.50" r="4.95" fill="#0d7c8a" stroke="#fff" stroke-width="1.3"/>
<circle cx="951.50" cy="313.50" r="4.95" fill="#0d7c8a" stroke="#fff" stroke-width="1.3"/>
<circle cx="62.40" cy="313.50" r="4.95" fill="#ee6000" stroke="#fff" stroke-width="1.3"/>
<circle cx="210.58" cy="303.03" r="4.95" fill="#ee6000" stroke="#fff" stroke-width="1.3"/>
<circle cx="358.77" cy="306.52" r="4.95" fill="#ee6000" stroke="#fff" stroke-width="1.3"/>
<circle cx="506.95" cy="310.01" r="4.95" fill="#ee6000" stroke="#fff" stroke-width="1.3"/>
<circle cx="655.13" cy="313.50" r="4.95" fill="#ee6000" stroke="#fff" stroke-width="1.3"/>
<circle cx="803.32" cy="313.50" r="4.95" fill="#ee6000" stroke="#fff" stroke-width="1.3"/>
<circle cx="951.50" cy="313.50" r="4.95" fill="#ee6000" stroke="#fff" stroke-width="1.3"/>
<circle cx="62.40" cy="313.50" r="4.95" fill="#2cb866" stroke="#fff" stroke-width="1.3"/>
<circle cx="210.58" cy="306.52" r="4.95" fill="#2cb866" stroke="#fff" stroke-width="1.3"/>
<circle cx="358.77" cy="222.78" r="4.95" fill="#2cb866" stroke="#fff" stroke-width="1.3"/>
<circle cx="506.95" cy="280.35" r="4.95" fill="#2cb866" stroke="#fff" stroke-width="1.3"/>
<circle cx="655.13" cy="287.33" r="4.95" fill="#2cb866" stroke="#fff" stroke-width="1.3"/>
<circle cx="803.32" cy="310.01" r="4.95" fill="#2cb866" stroke="#fff" stroke-width="1.3"/>
<circle cx="951.50" cy="313.50" r="4.95" fill="#2cb866" stroke="#fff" stroke-width="1.3"/>
<circle cx="62.40" cy="313.50" r="4.95" fill="#0a84ff" stroke="#fff" stroke-width="1.3"/>
<circle cx="210.58" cy="196.61" r="4.95" fill="#0a84ff" stroke="#fff" stroke-width="1.3"/>
<circle cx="358.77" cy="266.39" r="4.95" fill="#0a84ff" stroke="#fff" stroke-width="1.3"/>
<circle cx="506.95" cy="303.03" r="4.95" fill="#0a84ff" stroke="#fff" stroke-width="1.3"/>
<circle cx="655.13" cy="303.03" r="4.95" fill="#0a84ff" stroke="#fff" stroke-width="1.3"/>
<circle cx="803.32" cy="313.50" r="4.95" fill="#0a84ff" stroke="#fff" stroke-width="1.3"/>
<circle cx="951.50" cy="313.50" r="4.95" fill="#0a84ff" stroke="#fff" stroke-width="1.3"/>
<circle cx="62.40" cy="313.50" r="4.95" fill="#f0960a" stroke="#fff" stroke-width="1.3"/>
<circle cx="210.58" cy="313.50" r="4.95" fill="#f0960a" stroke="#fff" stroke-width="1.3"/>
<circle cx="358.77" cy="301.29" r="4.95" fill="#f0960a" stroke="#fff" stroke-width="1.3"/>
<circle cx="506.95" cy="310.01" r="4.95" fill="#f0960a" stroke="#fff" stroke-width="1.3"/>
<circle cx="655.13" cy="313.50" r="4.95" fill="#f0960a" stroke="#fff" stroke-width="1.3"/>
<circle cx="803.32" cy="313.50" r="4.95" fill="#f0960a" stroke="#fff" stroke-width="1.3"/>
<circle cx="951.50" cy="313.50" r="4.95" fill="#f0960a" stroke="#fff" stroke-width="1.3"/>
<path d="M195.04 28.77 A17.25 17.25 0 1 1 226.12 28.77 C221.63 38.09 210.58 41.47 210.58 53.54 C210.58 41.47 199.53 38.09 195.04 28.77 Z" fill="#f25465"/>
<text x="210.58" y="30.18" fill="#fff" stroke="#fff" stroke-width="0.3" font-size="16.5" text-anchor="middle">149</text>
<path d="M195.04 166.60 A17.25 17.25 0 1 1 226.12 166.60 C221.63 175.92 210.58 179.30 210.58 191.37 C210.58 179.30 199.53 175.92 195.04 166.60 Z" fill="#0a3fd9"/>
<text x="210.58" y="168.01" fill="#fff" stroke="#fff" stroke-width="0.3" font-size="16.5" text-anchor="middle">70</text>
<path d="M195.04 285.23 A17.25 17.25 0 1 1 226.12 285.23 C221.63 294.56 210.58 297.94 210.58 310.01 C210.58 297.94 199.53 294.56 195.04 285.23 Z" fill="#0d7c8a"/>
<text x="210.58" y="286.65" fill="#fff" stroke="#fff" stroke-width="0.3" font-size="16.5" text-anchor="middle">2</text>
<path d="M195.04 278.25 A17.25 17.25 0 1 1 226.12 278.25 C221.63 287.58 210.58 290.96 210.58 303.03 C210.58 290.96 199.53 287.58 195.04 278.25 Z" fill="#ee6000"/>
<text x="210.58" y="279.67" fill="#fff" stroke="#fff" stroke-width="0.3" font-size="16.5" text-anchor="middle">6</text>
<path d="M343.23 198.00 A17.25 17.25 0 1 1 374.31 198.00 C369.82 207.32 358.77 210.70 358.77 222.78 C358.77 210.70 347.72 207.32 343.23 198.00 Z" fill="#2cb866"/>
<text x="358.77" y="199.41" fill="#fff" stroke="#fff" stroke-width="0.3" font-size="16.5" text-anchor="middle">52</text>
<path d="M195.04 171.83 A17.25 17.25 0 1 1 226.12 171.83 C221.63 181.15 210.58 184.53 210.58 196.61 C210.58 184.53 199.53 181.15 195.04 171.83 Z" fill="#0a84ff"/>
<text x="210.58" y="173.24" fill="#fff" stroke="#fff" stroke-width="0.3" font-size="16.5" text-anchor="middle">67</text>
<path d="M343.23 276.51 A17.25 17.25 0 1 1 374.31 276.51 C369.82 285.83 358.77 289.21 358.77 301.29 C358.77 289.21 347.72 285.83 343.23 276.51 Z" fill="#f0960a"/>
<text x="358.77" y="277.92" fill="#fff" stroke="#fff" stroke-width="0.3" font-size="16.5" text-anchor="middle">7</text>
<line x1="215.8" y1="368.3" x2="241.8" y2="368.3" stroke="#f25465" stroke-width="2" stroke-opacity="0.55"/><circle cx="228.8" cy="368.3" r="6" fill="#f25465"/>
<line x1="302.4" y1="368.3" x2="328.4" y2="368.3" stroke="#0a3fd9" stroke-width="2" stroke-opacity="0.55"/><circle cx="315.4" cy="368.3" r="6" fill="#0a3fd9"/>
<line x1="388.5" y1="368.3" x2="414.5" y2="368.3" stroke="#0d7c8a" stroke-width="2" stroke-opacity="0.55"/><circle cx="401.5" cy="368.3" r="6" fill="#0d7c8a"/>
<line x1="475.2" y1="368.3" x2="501.2" y2="368.3" stroke="#ee6000" stroke-width="2" stroke-opacity="0.55"/><circle cx="488.2" cy="368.3" r="6" fill="#ee6000"/>
<line x1="561.2" y1="368.3" x2="587.2" y2="368.3" stroke="#2cb866" stroke-width="2" stroke-opacity="0.55"/><circle cx="574.2" cy="368.3" r="6" fill="#2cb866"/>
<line x1="647.3" y1="368.3" x2="673.3" y2="368.3" stroke="#0a84ff" stroke-width="2" stroke-opacity="0.55"/><circle cx="660.3" cy="368.3" r="6" fill="#0a84ff"/>
<line x1="732.5" y1="368.3" x2="758.5" y2="368.3" stroke="#f0960a" stroke-width="2" stroke-opacity="0.55"/><circle cx="745.5" cy="368.3" r="6" fill="#f0960a"/>
</svg>
<div class="yl" style="top:305.5px">0</div>
<div class="yl" style="top:253.2px">30</div>
<div class="yl" style="top:200.8px">60</div>
<div class="yl" style="top:148.5px">90</div>
<div class="yl" style="top:96.1px">120</div>
<div class="yl" style="top:43.8px">150</div>
<div class="xl" style="left:32.4px">11–25</div>
<div class="xl" style="left:180.6px">11–26</div>
<div class="xl" style="left:328.8px">11–27</div>
<div class="xl" style="left:476.9px">11–28</div>
<div class="xl" style="left:625.1px">11–29</div>
<div class="xl" style="left:773.3px">11–30</div>
<div class="xl" style="left:921.5px">12–01</div>
<div class="lg" style="left:254.8px">总量</div>
<div class="lg" style="left:341.4px">新闻</div>
<div class="lg" style="left:427.5px">论坛</div>
<div class="lg" style="left:514.2px">微博</div>
<div class="lg" style="left:600.2px">微信</div>
<div class="lg" style="left:686.3px;-webkit-text-stroke:0;font-size:18px;top:359px">APP</div>
<div class="lg" style="left:771.5px">平媒</div>
<div class="t" style="left:24px;top:19px">信息量(条)</div>
<div class="t" style="left:967px;top:305px">时间</div>
</div></body></html>
